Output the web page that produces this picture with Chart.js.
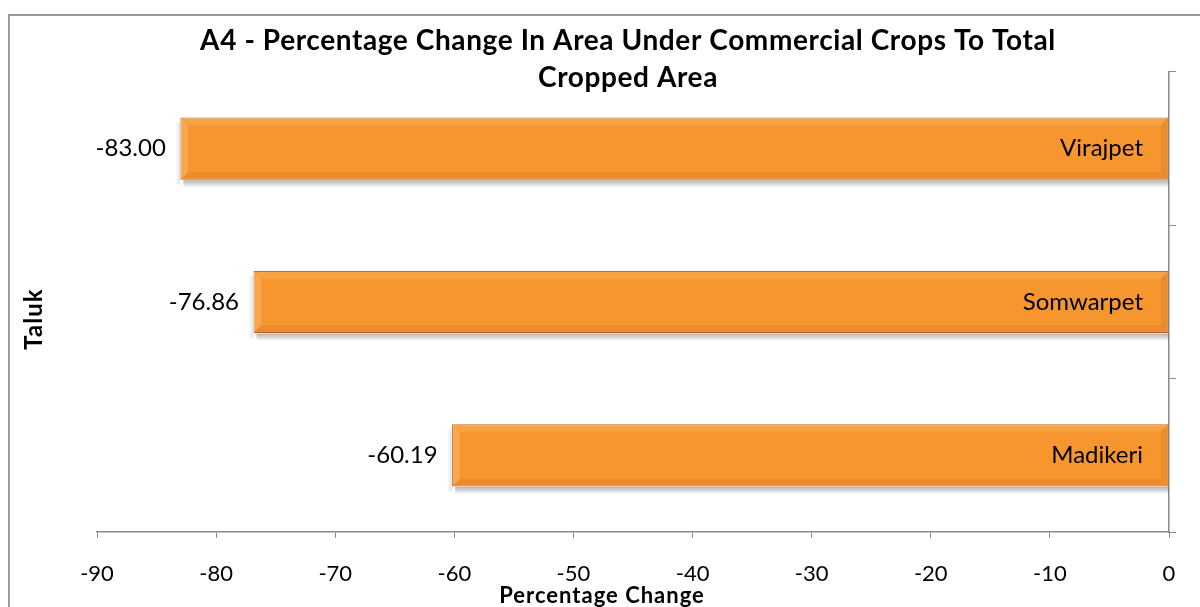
<!DOCTYPE html>
<html>
<head>
<meta charset="utf-8">
<script src="https://cdn.jsdelivr.net/npm/chart.js@4.4.1/dist/chart.umd.min.js"></script>
<style>
    html, body { margin: 0; padding: 0; background: #fff; }
    .wrap { width: 1200px; height: 607px; position: relative; }
</style>
</head>
<body>
<div class="wrap"><canvas id="myChart"></canvas></div>
<script>
// data
const taluks = ["Virajpet", "Somwarpet", "Madikeri"];
const changes = [-83.00, -76.86, -60.19];
const xTicks = [-90, -80, -70, -60, -50, -40, -30, -20, -10, 0];

const titleLines = ["A4 - Percentage Change In Area Under Commercial Crops To Total", "Cropped Area"];
const xTitle = "Percentage Change";
const yTitle = "Taluk";
const fontFam = "Lato, 'Open Sans', sans-serif";
const axisGrey = "#8a8a8a";

function barFill(ctx, top, bottom) {
    const g = ctx.createLinearGradient(0, top, 0, bottom);
    g.addColorStop(0, "#fdd58c");
    g.addColorStop(0.05, "#fcb556");
    g.addColorStop(0.14, "#fba03c");
    g.addColorStop(0.5, "#f8962f");
    g.addColorStop(0.8, "#ee892a");
    g.addColorStop(0.92, "#d97a22");
    g.addColorStop(1, "#b96a22");
    return g;
}

function barBox(bar) {
    const p = bar.getProps(["x", "y", "base", "height"], true);
    return {
        l: Math.min(p.x, p.base),
        r: Math.max(p.x, p.base),
        t: p.y - p.height / 2,
        b: p.y + p.height / 2,
        y: p.y,
    };
}

// frame and titles
const decor = {
    id: "decor",
    beforeDraw(chart) {
        const c = chart.ctx;
        c.save();
        c.fillStyle = "#fff";
        c.fillRect(0, 0, chart.width, chart.height);
        c.strokeStyle = "#9a9a9a";
        c.lineWidth = 2;
        c.strokeRect(9, 15, 1400, 800);
        c.restore();
    },
    afterDraw(chart) {
        const c = chart.ctx;
        c.save();
        c.fillStyle = "#000";
        c.textAlign = "center";
        c.textBaseline = "alphabetic";
        c.font = "bold 28px " + fontFam;
        c.letterSpacing = "0.6px";
        c.fillText(titleLines[0], 628, 50);
        c.fillText(titleLines[1], 628, 87);
        c.font = "bold 22px " + fontFam;
        c.letterSpacing = "1px";
        c.fillText(xTitle, 602, 603);
        c.translate(42, 319);
        c.rotate(-Math.PI / 2);
        c.font = "bold 24px " + fontFam;
        c.fillText(yTitle, 0, 0);
        c.restore();
    },
};

// shadow + bevel + labels on bars
const barDeco = {
    id: "barDeco",
    afterDatasetsDraw(chart) {
        const c = chart.ctx;
        chart.getDatasetMeta(0).data.forEach((bar, i) => {
            const box = barBox(bar);
            c.save();
            // soft shadow under the bar
            const sh = c.createLinearGradient(0, box.b, 0, box.b + 8);
            sh.addColorStop(0, "rgba(0,0,0,0.32)");
            sh.addColorStop(1, "rgba(0,0,0,0)");
            c.fillStyle = sh;
            c.fillRect(box.l + 3, box.b + 0.5, box.r - box.l - 3, 8);
            const sl = c.createLinearGradient(box.l, 0, box.l - 5, 0);
            sl.addColorStop(0, "rgba(0,0,0,0.12)");
            sl.addColorStop(1, "rgba(0,0,0,0)");
            c.fillStyle = sl;
            c.fillRect(box.l - 5, box.t + 5, 4.5, box.b - box.t);

            const l = box.l + 0.5, r = box.r - 0.5, t = box.t + 0.5, b = box.b - 0.5;
            const bw = 7;
            // left bevel
            c.fillStyle = "rgba(255,235,190,0.22)";
            c.beginPath();
            c.moveTo(l, t); c.lineTo(l + bw, t + bw); c.lineTo(l + bw, b - bw); c.lineTo(l, b);
            c.closePath(); c.fill();
            // top bevel
            c.fillStyle = "rgba(255,230,160,0.18)";
            c.beginPath();
            c.moveTo(l, t); c.lineTo(r, t); c.lineTo(r - bw, t + bw); c.lineTo(l + bw, t + bw);
            c.closePath(); c.fill();
            // bottom bevel
            c.fillStyle = "rgba(150,70,0,0.12)";
            c.beginPath();
            c.moveTo(l, b); c.lineTo(l + bw, b - bw); c.lineTo(r - bw, b - bw); c.lineTo(r, b);
            c.closePath(); c.fill();
            // right bevel
            c.fillStyle = "rgba(170,90,20,0.15)";
            c.beginPath();
            c.moveTo(r, t); c.lineTo(r, b); c.lineTo(r - bw, b - bw); c.lineTo(r - bw, t + bw);
            c.closePath(); c.fill();

            c.fillStyle = "#000";
            c.textBaseline = "middle";
            c.font = "24px " + fontFam;
            c.textAlign = "right";
            c.fillText(changes[i].toFixed(2), l - 15, box.y);
            c.fillText(taluks[i], r - 25, box.y);
            c.restore();
        });
    },
};

const config = {
    type: "bar",
    data: {
        labels: taluks,
        datasets: [{
            data: changes,
            backgroundColor: (ctx) => {
                const chart = ctx.chart;
                const bar = ctx.element;
                if (!chart.chartArea || !bar) return "#f7952f";
                const box = barBox(bar);
                if (!(box.b - box.t)) return "#f7952f";
                return barFill(chart.ctx, box.t, box.b);
            },
            borderColor: "#b9651f",
            borderWidth: 1,
            borderSkipped: false,
            barPercentage: 0.405,
            categoryPercentage: 1,
        }],
    },
    options: {
        indexAxis: "y",
        responsive: true,
        maintainAspectRatio: false,
        animation: false,
        layout: { padding: { left: 97, right: 0, top: 72, bottom: 0 } },
        plugins: {
            legend: { display: false },
            tooltip: { enabled: false },
        },
        scales: {
            x: {
                min: -90,
                max: 0,
                afterBuildTicks: (scale) => {
                    scale.ticks = xTicks.map((v) => ({ value: v }));
                },
                afterFit: (scale) => { scale.height = 75; },
                grid: {
                    drawOnChartArea: false,
                    color: axisGrey,
                    tickLength: 6,
                },
                border: { color: axisGrey, width: 1.5 },
                ticks: {
                    color: "#000",
                    font: { family: fontFam, size: 22 },
                    padding: 23,
                    maxRotation: 0,
                },
            },
            y: {
                position: "right",
                afterFit: (scale) => { scale.width = 31; },
                grid: {
                    offset: true,
                    drawOnChartArea: false,
                    color: axisGrey,
                    tickLength: 7,
                },
                border: { color: axisGrey, width: 1.5 },
                ticks: { display: false },
            },
        },
    },
    plugins: [decor, barDeco],
};

const myChart = new Chart(document.getElementById("myChart"), config);
</script>
</body>
</html>
